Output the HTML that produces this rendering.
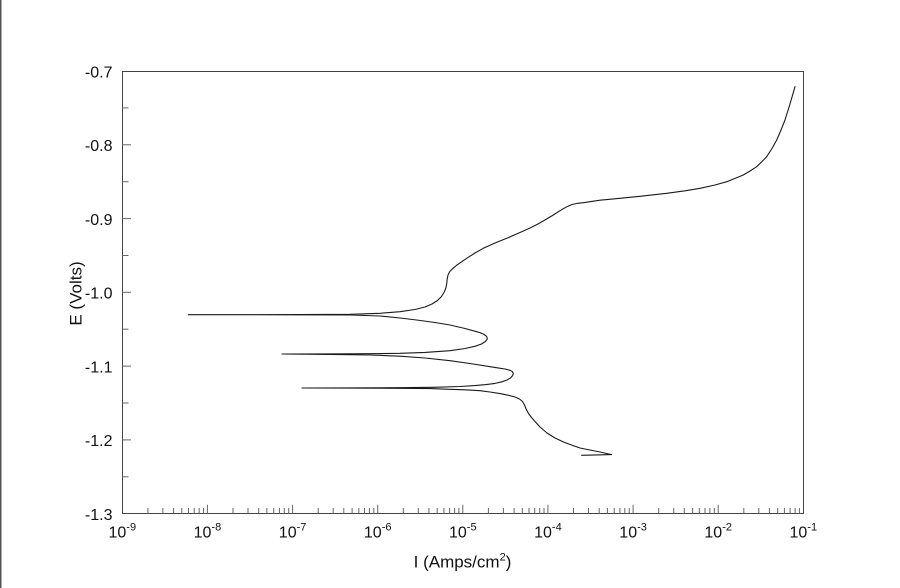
<!DOCTYPE html>
<html>
<head>
<meta charset="utf-8">
<style>
  html, body { margin: 0; padding: 0; background: #fff; }
  body { width: 900px; height: 588px; overflow: hidden; }
  svg { display: block; }
  text { font-family: "Liberation Sans", Arial, sans-serif; fill: #111; }
</style>
</head>
<body>
<svg width="900" height="588" viewBox="0 0 900 588" xmlns="http://www.w3.org/2000/svg">
  <rect x="0" y="0" width="900" height="588" fill="#fff"/>
  <line x1="0.75" y1="0" x2="0.75" y2="588" stroke="#555" stroke-width="1.5"/>

  <!-- plot frame -->
  <rect x="122.5" y="71.5" width="681" height="442" fill="none" stroke="#444" stroke-width="1"/>

  <!-- y ticks -->
  <g stroke="#666" stroke-width="1">
    <line x1="122.5" y1="144.8" x2="131" y2="144.8"/>
    <line x1="122.5" y1="218.6" x2="131" y2="218.6"/>
    <line x1="122.5" y1="292.3" x2="131" y2="292.3"/>
    <line x1="122.5" y1="366.1" x2="131" y2="366.1"/>
    <line x1="122.5" y1="439.9" x2="131" y2="439.9"/>
    <line x1="122.5" y1="107.9" x2="128.5" y2="107.9"/>
    <line x1="122.5" y1="181.7" x2="128.5" y2="181.7"/>
    <line x1="122.5" y1="255.5" x2="128.5" y2="255.5"/>
    <line x1="122.5" y1="329.2" x2="128.5" y2="329.2"/>
    <line x1="122.5" y1="403.0" x2="128.5" y2="403.0"/>
    <line x1="122.5" y1="476.8" x2="128.5" y2="476.8"/>
  </g>

  <!-- x ticks -->
  <g stroke="#666" stroke-width="1">
    <path d="M207.4 513.5V504.8 M292.6 513.5V504.8 M377.7 513.5V504.8 M462.8 513.5V504.8 M547.9 513.5V504.8 M633.1 513.5V504.8 M718.2 513.5V504.8"/>
    <path d="
M147.9 513.5V508 M162.9 513.5V508 M173.6 513.5V508 M181.8 513.5V508 M188.5 513.5V508 M194.2 513.5V508 M199.2 513.5V508 M203.5 513.5V508
M233.0 513.5V508 M248.0 513.5V508 M258.7 513.5V508 M266.9 513.5V508 M273.7 513.5V508 M279.4 513.5V508 M284.3 513.5V508 M288.7 513.5V508
M318.2 513.5V508 M333.2 513.5V508 M343.8 513.5V508 M352.1 513.5V508 M358.8 513.5V508 M364.5 513.5V508 M369.4 513.5V508 M373.8 513.5V508
M403.3 513.5V508 M418.3 513.5V508 M428.9 513.5V508 M437.2 513.5V508 M443.9 513.5V508 M449.6 513.5V508 M454.6 513.5V508 M458.9 513.5V508
M488.4 513.5V508 M503.4 513.5V508 M514.1 513.5V508 M522.3 513.5V508 M529.0 513.5V508 M534.7 513.5V508 M539.7 513.5V508 M544.0 513.5V508
M573.5 513.5V508 M588.5 513.5V508 M599.2 513.5V508 M607.4 513.5V508 M614.2 513.5V508 M619.9 513.5V508 M624.8 513.5V508 M629.2 513.5V508
M658.7 513.5V508 M673.7 513.5V508 M684.3 513.5V508 M692.6 513.5V508 M699.3 513.5V508 M705.0 513.5V508 M709.9 513.5V508 M714.3 513.5V508
M743.8 513.5V508 M758.8 513.5V508 M769.4 513.5V508 M777.7 513.5V508 M784.4 513.5V508 M790.1 513.5V508 M795.1 513.5V508 M799.4 513.5V508"/>
  </g>

  <!-- y tick labels -->
  <g font-size="16" text-anchor="end">
    <text x="112.5" y="77.3">-0.7</text>
    <text x="112.5" y="151">-0.8</text>
    <text x="112.5" y="224.8">-0.9</text>
    <text x="112.5" y="298.5">-1.0</text>
    <text x="112.5" y="372.3">-1.1</text>
    <text x="112.5" y="446.1">-1.2</text>
    <text x="112.5" y="519.9">-1.3</text>
  </g>

  <!-- x tick labels -->
  <g font-size="16" text-anchor="middle">
    <text x="122.3" y="537.3">10<tspan font-size="11" dy="-7">-9</tspan></text>
    <text x="207.4" y="537.3">10<tspan font-size="11" dy="-7">-8</tspan></text>
    <text x="292.6" y="537.3">10<tspan font-size="11" dy="-7">-7</tspan></text>
    <text x="377.7" y="537.3">10<tspan font-size="11" dy="-7">-6</tspan></text>
    <text x="462.8" y="537.3">10<tspan font-size="11" dy="-7">-5</tspan></text>
    <text x="547.9" y="537.3">10<tspan font-size="11" dy="-7">-4</tspan></text>
    <text x="633.1" y="537.3">10<tspan font-size="11" dy="-7">-3</tspan></text>
    <text x="718.2" y="537.3">10<tspan font-size="11" dy="-7">-2</tspan></text>
    <text x="803.3" y="537.3">10<tspan font-size="11" dy="-7">-1</tspan></text>
  </g>

  <!-- axis titles -->
  <text x="462.5" y="567.3" font-size="17" text-anchor="middle">I (Amps/cm<tspan font-size="11" dy="-7">2</tspan><tspan dy="7">)</tspan></text>
  <text transform="translate(81.5,293.5) rotate(-90)" font-size="17" text-anchor="middle">E (Volts)</text>

  <!-- curve -->
  <polyline fill="none" stroke="#1a1a1a" stroke-width="1.1" stroke-linejoin="round" stroke-linecap="round" points="
581.7,455.3 611.7,454.6 600,452 590,450 580,448 570,444.5 563,441.7 555,438 547,433 540,427 535,421.5 531.5,417.5 528.5,413.5 526.3,409.5 524.5,405 522.5,401.5 519.5,399 515,397 508,395.2 500,393.6 490,392 480,390.7 465,389.8 450,389.3 430,388.6 400,388.3 350,388.1 302,388
350,387.9 400,387.7 433,387.3 460,386.5 475,385.6 486,384.6 495,383.4 502,381.8 507,380 510.5,378 512.6,375.6 513.3,373.5 512.4,371.6 510,370.3 505,369 498,367.9 490,366.7 470,363.5 450,360.7 425,358 400,356.2 370,355 330,354.4 282,354
330,353.9 370,353.7 400,353.3 425,352.4 450,350.7 465,348.5 475,346.3 481.5,344 485.3,341.5 487,339.5 487.3,338.3 486.5,336.3 484,334.4 480,332.6 476.7,331.7 465,328.5 450,325 435,322.5 416.7,320 400,318 380,316 350,315 300,314.8 188.3,314.7
300,314.6 350,314.3 380,313.3 400,311.7 415,309.5 425,307 432,304 437.5,300.5 441.5,296.5 444.3,292 446,287.5 446.8,283 447.2,279 448,275 449.8,271.5 453,268.3 457,265 461,262.2 466.7,258.3 475,253 483.3,248.3 495,243 506.7,238.3 520,232.5 530,228 537,224.5 545,220 553.3,215 559,211.3 564,208.3 568,206.2 572,204.5 577,203.4 583.3,202.7 600,200.2 620,198.3 640,196.3 666.7,193.3 685,190.8 700,188.3 715,185 726.7,181.7 736,178 743.3,175 750,171 756.7,166.7 762,161.5 766.7,156.7 772,148.5 776.7,140 781,130 785,120 790,104 795,86.7"/>
</svg>
</body>
</html>
